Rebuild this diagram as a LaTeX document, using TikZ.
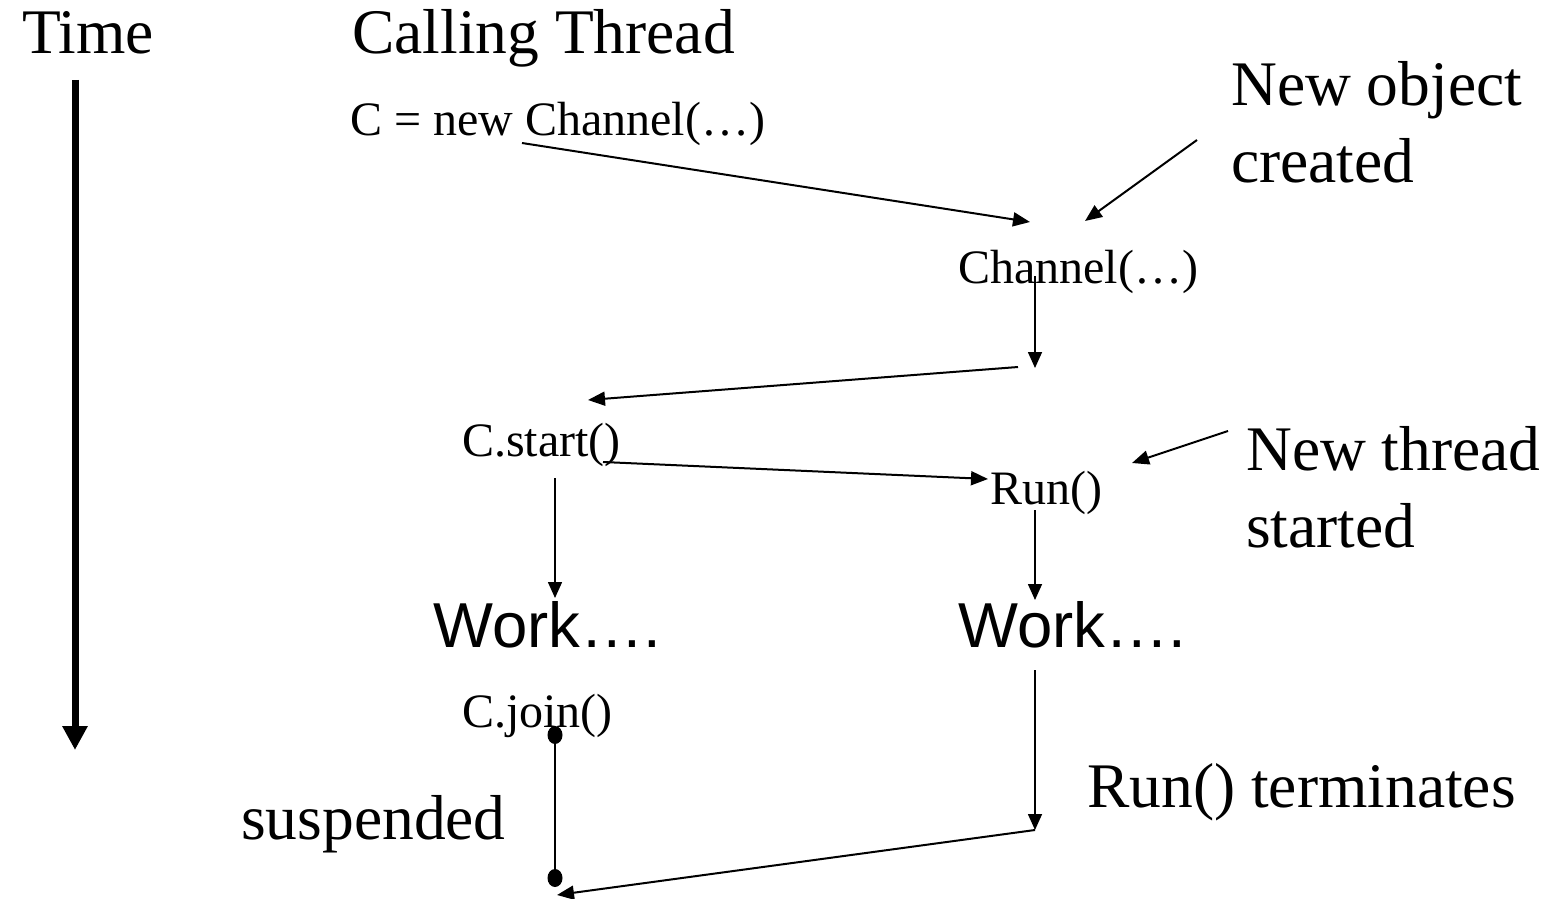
\documentclass[tikz,border=0pt]{standalone}
\usepackage{fontspec}
\setmainfont{Liberation Serif}
\newfontfamily\worksans{Liberation Sans}
\usetikzlibrary{arrows.meta,shapes.geometric}
\begin{document}
\begin{tikzpicture}[x=1pt,y=-1pt,
  big/.style={font=\fontsize{63.5}{77}\selectfont, inner sep=0pt, anchor=base west, align=left},
  small/.style={font=\fontsize{48}{56}\selectfont, inner sep=0pt, anchor=base west},
  worklbl/.style={font=\worksans\fontsize{63.5}{74}\selectfont, inner sep=0pt, anchor=base west},
  flow/.style={line width=2pt, -{Triangle[length=17pt,width=14pt]}},
  down/.style={line width=1.6pt, -{Triangle[length=16pt,width=14pt]}},
  timeaxis/.style={line width=7pt, -{Triangle[length=24pt,width=24pt]}},
  joinpt/.style={ellipse, fill=black, inner sep=0pt, minimum width=15pt, minimum height=18pt}]
\useasboundingbox (0,0) rectangle (1556,899);

% headings and labels (two-line notes are placed by their last baseline)
\node[big] (time)   at (22,54)   {Time};
\node[big] (caller) at (352,54)  {Calling Thread};
\node[small] (newc) at (350,135) {C = new Channel(…)};
\node[big] (objnote) at (1231,182) {New object\\created};
\node[small] (ctor) at (958,283) {Channel(…)};
\node[small] (start) at (462,456) {C.start()};
\node[small] (run) at (990,504) {Run()};
\node[big] (thrnote) at (1246,547) {New thread\\started};
\node[worklbl] (workL) at (433,647) {Work….};
\node[worklbl] (workR) at (958,647) {Work….};
\node[small] (join) at (462,727) {C.join()};
\node[big] (susp) at (241,839) {suspended};
\node[big] (term) at (1087,807) {Run() terminates};

% join points on the calling thread
\node[joinpt] (j1) at (555,735) {};
\node[joinpt] (j2) at (555,878) {};

% connector end points
\coordinate (tA) at (75,80);
\coordinate (tB) at (75,750);
\coordinate (n1) at (522,143);
\coordinate (c1) at (1030,222);
\coordinate (o1) at (1197,140);
\coordinate (o2) at (1085,221);
\coordinate (c2) at (1035,276);
\coordinate (c3) at (1035,368);
\coordinate (c4) at (1018,367);
\coordinate (s1) at (588,400);
\coordinate (s2) at (603,462);
\coordinate (r1) at (988,479);
\coordinate (h1) at (1228,431);
\coordinate (h2) at (1132,463);
\coordinate (s3) at (555,478);
\coordinate (s4) at (555,598);
\coordinate (r2) at (1035,510);
\coordinate (r3) at (1035,600);
\coordinate (r4) at (1035,670);
\coordinate (r5) at (1035,830);
\coordinate (j3) at (557,895);

% time axis
\draw[timeaxis] (tA) -- (tB);

% message flow
\draw[flow] (n1) -- (c1);
\draw[flow] (o1) -- (o2);
\draw[down] (c2) -- (c3);
\draw[flow] (c4) -- (s1);
\draw[flow] (s2) -- (r1);
\draw[flow] (h1) -- (h2);
\draw[down] (s3) -- (s4);
\draw[down] (r2) -- (r3);
\draw[down] (r4) -- (r5);
\draw[line width=1.6pt] (j1) -- (j2);
\draw[flow] (r5) -- (j3);
\end{tikzpicture}
\end{document}
